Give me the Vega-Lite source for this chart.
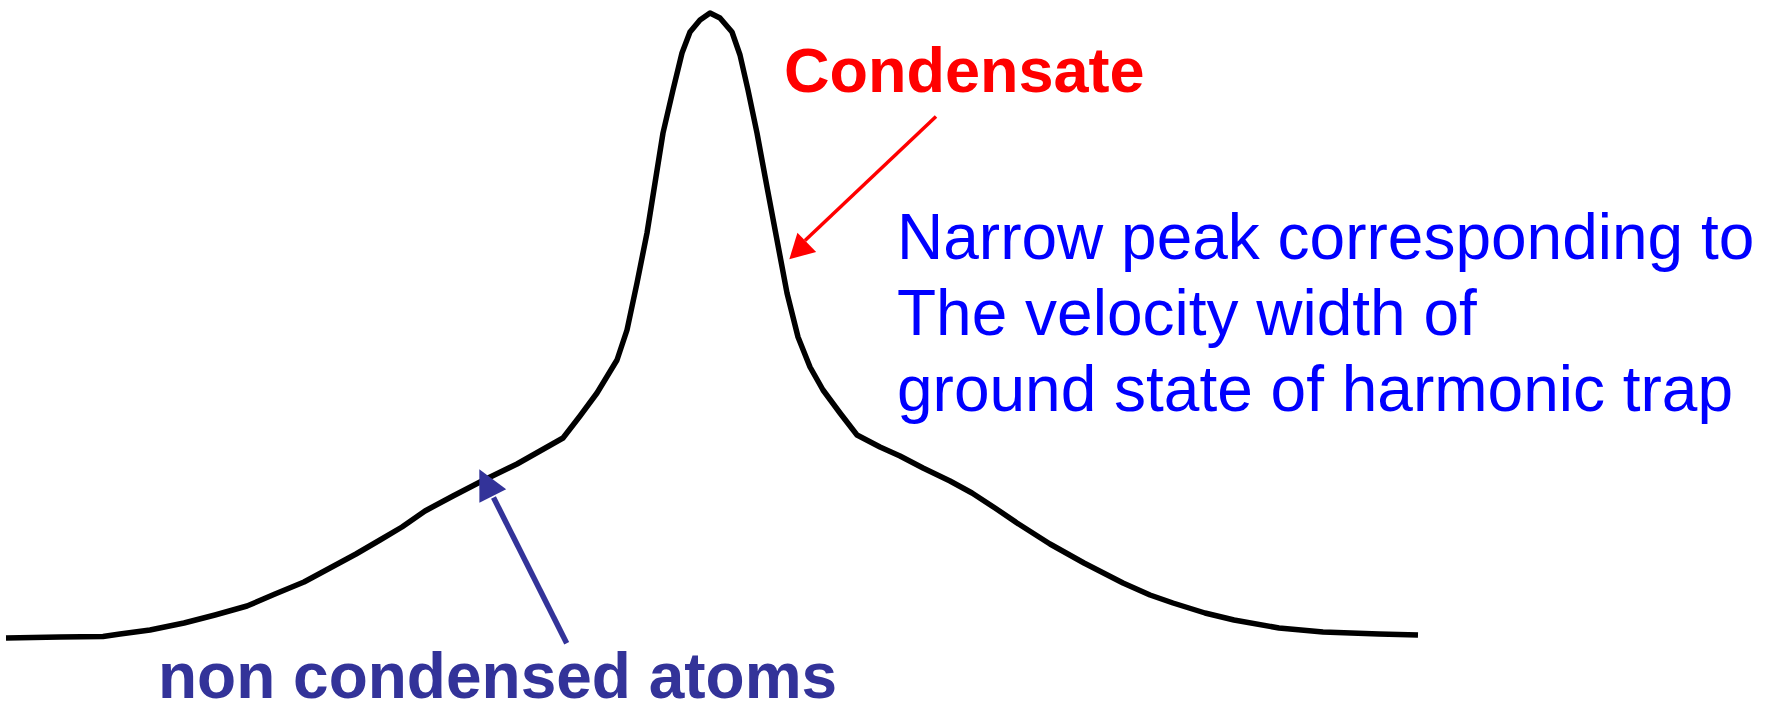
{
  "$schema": "https://vega.github.io/schema/vega-lite/v6.json",
  "width": 1773,
  "height": 705,
  "autosize": {"type": "none"},
  "padding": 0,
  "background": "white",
  "config": {"view": {"stroke": null}, "axis": {"disable": true}},
  "datasets": {
    "profile": [
      {"v": 6, "n": 67}, {"v": 60, "n": 68}, {"v": 103, "n": 68.5}, {"v": 120, "n": 71},
      {"v": 150, "n": 75}, {"v": 184, "n": 82}, {"v": 215, "n": 90}, {"v": 247, "n": 99},
      {"v": 275, "n": 111}, {"v": 304, "n": 123}, {"v": 330, "n": 137}, {"v": 356, "n": 151},
      {"v": 380, "n": 165}, {"v": 402, "n": 178}, {"v": 425, "n": 194}, {"v": 453, "n": 209},
      {"v": 482, "n": 224}, {"v": 517, "n": 241}, {"v": 540, "n": 254}, {"v": 563, "n": 267},
      {"v": 580, "n": 289}, {"v": 597, "n": 312}, {"v": 617, "n": 345}, {"v": 627, "n": 375},
      {"v": 637, "n": 422}, {"v": 647, "n": 472}, {"v": 655, "n": 522}, {"v": 663, "n": 572},
      {"v": 673, "n": 615}, {"v": 682, "n": 652}, {"v": 690, "n": 673}, {"v": 700, "n": 685},
      {"v": 710, "n": 692}, {"v": 720, "n": 687}, {"v": 732, "n": 673}, {"v": 740, "n": 650},
      {"v": 748, "n": 615}, {"v": 757, "n": 572}, {"v": 767, "n": 518}, {"v": 777, "n": 465},
      {"v": 787, "n": 412}, {"v": 798, "n": 368}, {"v": 810, "n": 338}, {"v": 823, "n": 315},
      {"v": 840, "n": 292}, {"v": 857, "n": 270}, {"v": 880, "n": 258}, {"v": 900, "n": 249},
      {"v": 923, "n": 237}, {"v": 950, "n": 224}, {"v": 972, "n": 212}, {"v": 995, "n": 197},
      {"v": 1017, "n": 182}, {"v": 1050, "n": 161}, {"v": 1084, "n": 142}, {"v": 1123, "n": 122},
      {"v": 1150, "n": 110}, {"v": 1173, "n": 102}, {"v": 1205, "n": 92}, {"v": 1234, "n": 85},
      {"v": 1279, "n": 77}, {"v": 1323, "n": 73}, {"v": 1379, "n": 71}, {"v": 1418, "n": 70}
    ],
    "arrows": [
      {"name": "condensate", "v": 936, "n": 588.5, "v2": 805, "n2": 464.5, "tv": 789.3, "tn": 445.7, "angle": 225.8},
      {"name": "thermal", "v": 566.7, "n": 61.7, "v2": 493.5, "n2": 207.5, "tv": 479.3, "tn": 235.7, "angle": 333.3}
    ],
    "labels": [
      {"name": "condensate", "v": 784, "n": 613.5, "text": "Condensate"},
      {"name": "description", "v": 897, "n": 446, "text": ["Narrow peak corresponding to", "The velocity width of", "ground state of harmonic trap"]},
      {"name": "thermal", "v": 158, "n": 7, "text": "non condensed atoms"}
    ]
  },
  "layer": [
    {
      "data": {"name": "profile"},
      "mark": {"type": "line", "color": "black", "strokeWidth": 5.5, "strokeJoin": "round", "strokeCap": "butt", "interpolate": "linear"},
      "encoding": {
        "x": {"field": "v", "type": "quantitative", "scale": {"domain": [0, 1773], "nice": false, "zero": false}, "axis": null},
        "y": {"field": "n", "type": "quantitative", "scale": {"domain": [0, 705], "nice": false, "zero": false}, "axis": null}
      }
    },
    {
      "data": {"name": "arrows"},
      "transform": [{"filter": "datum.name === 'condensate'"}],
      "mark": {"type": "rule", "color": "#FF0000", "strokeWidth": 3.5},
      "encoding": {
        "x": {"field": "v", "type": "quantitative"},
        "y": {"field": "n", "type": "quantitative"},
        "x2": {"field": "v2"},
        "y2": {"field": "n2"}
      }
    },
    {
      "data": {"name": "arrows"},
      "transform": [{"filter": "datum.name === 'condensate'"}],
      "mark": {"type": "point", "shape": "M0,0L-1.1,2L1.1,2Z", "filled": true, "color": "#FF0000", "opacity": 1, "size": 595, "strokeWidth": 0},
      "encoding": {
        "x": {"field": "tv", "type": "quantitative"},
        "y": {"field": "tn", "type": "quantitative"},
        "angle": {"field": "angle", "type": "quantitative", "scale": null}
      }
    },
    {
      "data": {"name": "arrows"},
      "transform": [{"filter": "datum.name === 'thermal'"}],
      "mark": {"type": "rule", "color": "#333399", "strokeWidth": 5.5},
      "encoding": {
        "x": {"field": "v", "type": "quantitative"},
        "y": {"field": "n", "type": "quantitative"},
        "x2": {"field": "v2"},
        "y2": {"field": "n2"}
      }
    },
    {
      "data": {"name": "arrows"},
      "transform": [{"filter": "datum.name === 'thermal'"}],
      "mark": {"type": "point", "shape": "M0,0L-1,2L1,2Z", "filled": true, "color": "#333399", "opacity": 1, "size": 900, "strokeWidth": 0},
      "encoding": {
        "x": {"field": "tv", "type": "quantitative"},
        "y": {"field": "tn", "type": "quantitative"},
        "angle": {"field": "angle", "type": "quantitative", "scale": null}
      }
    },
    {
      "data": {"name": "labels"},
      "transform": [{"filter": "datum.name === 'condensate'"}],
      "mark": {"type": "text", "align": "left", "baseline": "alphabetic", "font": "Liberation Sans", "fontWeight": "bold", "fontSize": 63, "color": "#FF0000"},
      "encoding": {
        "x": {"field": "v", "type": "quantitative"},
        "y": {"field": "n", "type": "quantitative"},
        "text": {"field": "text"}
      }
    },
    {
      "data": {"name": "labels"},
      "transform": [{"filter": "datum.name === 'description'"}],
      "mark": {"type": "text", "align": "left", "baseline": "alphabetic", "font": "Liberation Sans", "fontSize": 64, "lineHeight": 76, "color": "#0000FF"},
      "encoding": {
        "x": {"field": "v", "type": "quantitative"},
        "y": {"field": "n", "type": "quantitative"},
        "text": {"field": "text"}
      }
    },
    {
      "data": {"name": "labels"},
      "transform": [{"filter": "datum.name === 'thermal'"}],
      "mark": {"type": "text", "align": "left", "baseline": "alphabetic", "font": "Liberation Sans", "fontWeight": "bold", "fontSize": 64, "color": "#333399"},
      "encoding": {
        "x": {"field": "v", "type": "quantitative"},
        "y": {"field": "n", "type": "quantitative"},
        "text": {"field": "text"}
      }
    }
  ]
}
